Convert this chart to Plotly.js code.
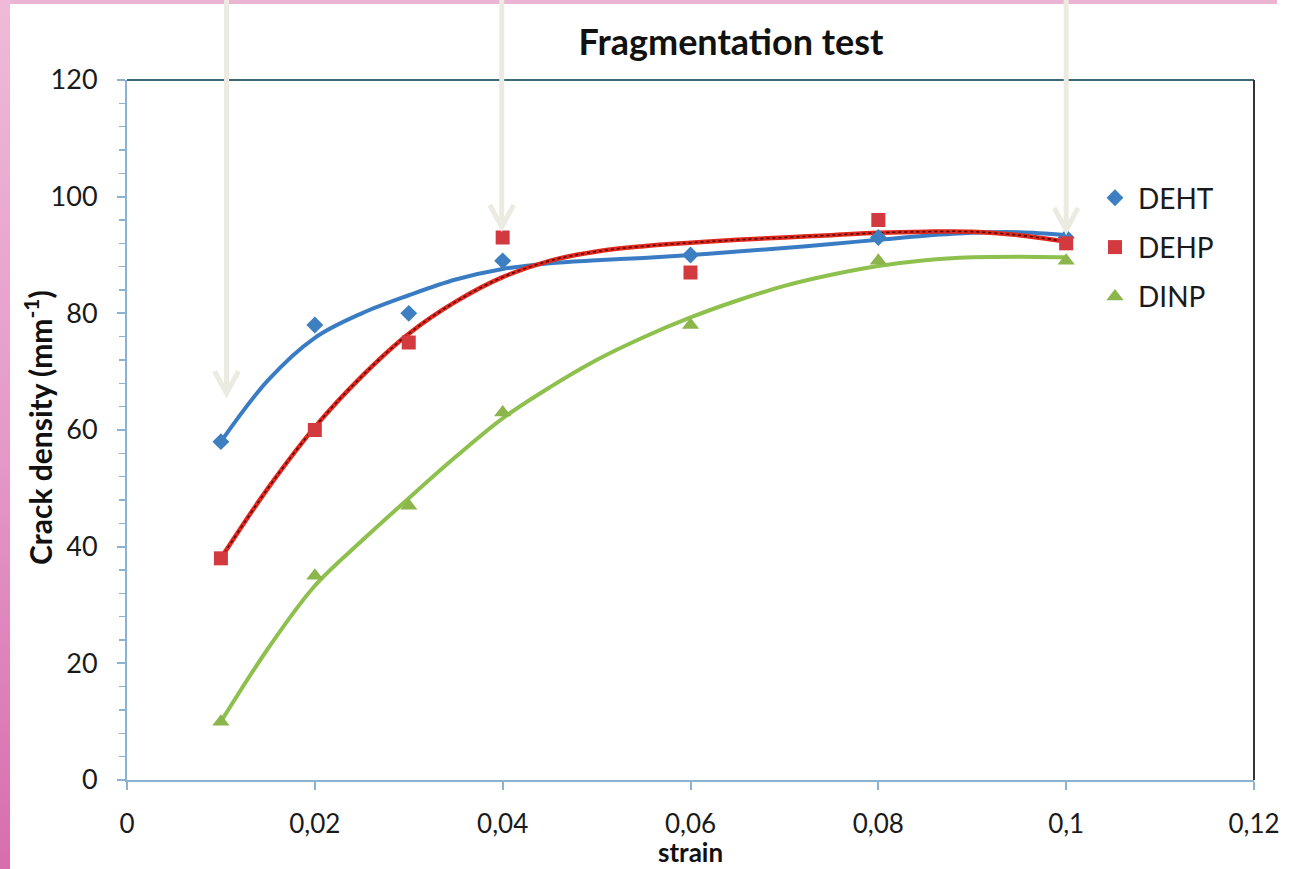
<!DOCTYPE html>
<html>
<head>
<meta charset="utf-8">
<script src="https://cdn.plot.ly/plotly-3.0.1.min.js"></script>
<style>
  html, body { margin:0; padding:0; background:#ffffff; }
  #wrap { position:relative; width:1294px; height:869px; overflow:hidden; background:#ffffff; }
  #pinkTop { position:absolute; left:0; top:0; width:1277px; height:4px; background:#ecb4d3; }
  #pinkLeft { position:absolute; left:0; top:0; width:10px; height:869px;
              background:linear-gradient(to bottom, #efbad8, #e59aca 50%, #d76eae); }
  #chart { position:absolute; left:0; top:0; width:1294px; height:869px; }
</style>
</head>
<body>
<div id="wrap">
  <div id="pinkTop"></div>
  <div id="pinkLeft"></div>
  <div id="chart"></div>
</div>
<script>
// ---- data ----
const strain = [0.01, 0.02, 0.03, 0.04, 0.06, 0.08, 0.1];
const deht = [58, 78, 80, 89, 90, 93, 93];
const dehp = [38, 60, 75, 93, 87, 96, 92];
const dinp = [10, 35, 47, 63, 78, 89, 89];

// trend curves (every 0.005 of strain)
const trendX    = [0.01, 0.015, 0.02, 0.025, 0.03, 0.035, 0.04, 0.045, 0.05, 0.055,
                   0.06, 0.065, 0.07, 0.075, 0.08, 0.085, 0.09, 0.095, 0.1];
const dehtTrend = [58, 68.5, 75.8, 80, 83.1, 85.8, 87.6, 88.6, 89.1, 89.5,
                   90, 90.6, 91.2, 91.9, 92.6, 93.3, 93.8, 93.9, 93.4];
const dehpTrend = [38, 50, 60.5, 69.2, 76.5, 82, 86.2, 89, 90.6, 91.5,
                   92.1, 92.6, 93, 93.4, 93.8, 94, 94, 93.4, 92.3];
const dinpTrend = [10, 22.5, 33.3, 41, 48.3, 55.4, 62, 67.3, 72, 75.9,
                   79.3, 82.2, 84.7, 86.6, 88.1, 89.1, 89.6, 89.7, 89.6];

const seriesNames = ['DEHT', 'DEHP', 'DINP'];
const xTicks = [0, 0.02, 0.04, 0.06, 0.08, 0.1, 0.12];
const yTicks = [0, 20, 40, 60, 80, 100, 120];

// decorative arrows (x in strain units, tip in crack density units)
const arrowX = [0.0106, 0.0399, 0.1];
const arrowTip = [66.3, 94.8, 94.3];

// ---- layout geometry ----
const W = 1294, H = 869;
const mL = 127, mR = 40, mT = 80, mB = 89;
const plotW = W - mL - mR, plotH = H - mT - mB;
const xMax = 0.12, yMax = 120;

const font = 'Lato, "Open Sans", "DejaVu Sans", sans-serif';
const lineBlue = '#3a7cc3', lineRed = '#e1261c', lineGreen = '#8dc04d';

const traces = [
  { x: trendX, y: dehtTrend, mode: 'lines', line: {color: lineBlue, width: 4, shape: 'spline', smoothing: 1}, showlegend: false, hoverinfo: 'skip' },
  { x: trendX, y: dinpTrend, mode: 'lines', line: {color: lineGreen, width: 4, shape: 'spline', smoothing: 1}, showlegend: false, hoverinfo: 'skip' },
  { x: trendX, y: dehpTrend, mode: 'lines', line: {color: lineRed, width: 4.5, shape: 'spline', smoothing: 1}, showlegend: false, hoverinfo: 'skip' },
  { x: trendX, y: dehpTrend, mode: 'lines', line: {color: 'rgba(20,0,0,0.75)', width: 1.5, dash: 'dot', shape: 'spline', smoothing: 1}, showlegend: false, hoverinfo: 'skip' },
  { x: strain, y: deht, name: seriesNames[0], legendgroup: 'a', mode: 'markers', marker: {symbol: 'diamond', size: 13, color: '#3d7fc1'} },
  { x: strain, y: dehp, name: seriesNames[1], legendgroup: 'b', mode: 'markers', marker: {symbol: 'square', size: 14, color: '#d33a3f'} },
  { x: strain, y: dinp, name: seriesNames[2], legendgroup: 'c', mode: 'markers', marker: {symbol: 'triangle-up', size: 15, color: '#8cb64c'} }
];

function px2paperX(v) { return (v - mL) / plotW; }
function px2paperY(v) { return (mT + plotH - v) / plotH; }
function data2paperX(v) { return v / xMax; }
function data2paperY(v) { return v / yMax; }
const armDX = 12 / plotW, armDY = 22 / plotH;
const arrowColor = '#ecebe1';

const shapes = [];
// top and right borders (dark)
shapes.push({type:'line', xref:'paper', yref:'paper', x0:0, x1:1, y0:1, y1:1, line:{color:'#3b6776', width:2}});
shapes.push({type:'line', xref:'paper', yref:'paper', x0:1, x1:1, y0:0, y1:1, line:{color:'#333333', width:2}});
arrowX.forEach((ax, i) => {
  const px = data2paperX(ax), py = data2paperY(arrowTip[i]);
  shapes.push({type:'line', xref:'paper', yref:'paper', x0:px, x1:px, y0:py, y1:px2paperY(-5), line:{color:arrowColor, width:5}});
  shapes.push({type:'path', xref:'paper', yref:'paper',
    path:`M ${px - armDX} ${py + armDY} L ${px} ${py} L ${px + armDX} ${py + armDY}`,
    line:{color:arrowColor, width:5}});
});

const annotations = [
  {text: '<b>Crack density (mm<sup>-1</sup>)</b>', textangle: -90, xref: 'paper', yref: 'paper',
   x: px2paperX(38), y: px2paperY(428), xanchor: 'center', yanchor: 'middle', showarrow: false,
   font: {family: font, size: 30, color: '#111111'}},
  {text: '<b>strain</b>', xref: 'paper', yref: 'paper',
   x: px2paperX(690), y: px2paperY(852), xanchor: 'center', yanchor: 'middle', showarrow: false,
   borderpad: 0, font: {family: font, size: 26, color: '#111111'}}
];

const layout = {
  width: W, height: H,
  margin: {l: mL, r: mR, t: mT, b: mB, pad: 0},
  paper_bgcolor: 'rgba(0,0,0,0)',
  plot_bgcolor: '#ffffff',
  separators: ',.',
  font: {family: font, color: '#1a1a1a'},
  title: {text: '<b>Fragmentation test</b>', font: {family: font, size: 36, color: '#111111'},
          x: px2paperX(731), xref: 'paper', xanchor: 'center', y: 1 - 42 / H, yanchor: 'middle'},
  xaxis: {
    range: [0, xMax], tickvals: xTicks, showgrid: false, zeroline: false,
    showline: true, linecolor: '#8ab3d3', linewidth: 2,
    ticks: 'outside', ticklen: 8, tickcolor: '#8ab3d3', tickwidth: 2,
    tickfont: {family: font, size: 26, color: '#1a1a1a'}, ticklabelstandoff: 12
  },
  yaxis: {
    range: [0, yMax], tickvals: yTicks, showgrid: false, zeroline: false,
    showline: true, linecolor: '#8ab3d3', linewidth: 2,
    ticks: 'outside', ticklen: 8, tickcolor: '#8ab3d3', tickwidth: 2,
    minor: {dtick: 4, ticks: 'outside', ticklen: 6, tickcolor: '#8ab3d3', tickwidth: 1.5},
    tickfont: {family: font, size: 27, color: '#1a1a1a'}, ticklabelstandoff: 14
  },
  legend: {x: px2paperX(1092), xanchor: 'left', y: px2paperY(173), yanchor: 'top',
           bgcolor: 'rgba(0,0,0,0)', font: {family: font, size: 28, color: '#1a1a1a'},
           itemwidth: 36, tracegroupgap: 10, traceorder: 'grouped'},
  shapes: shapes,
  annotations: annotations,
  showlegend: true
};

Plotly.newPlot('chart', traces, layout, {staticPlot: true, displayModeBar: false});
</script>
</body>
</html>
